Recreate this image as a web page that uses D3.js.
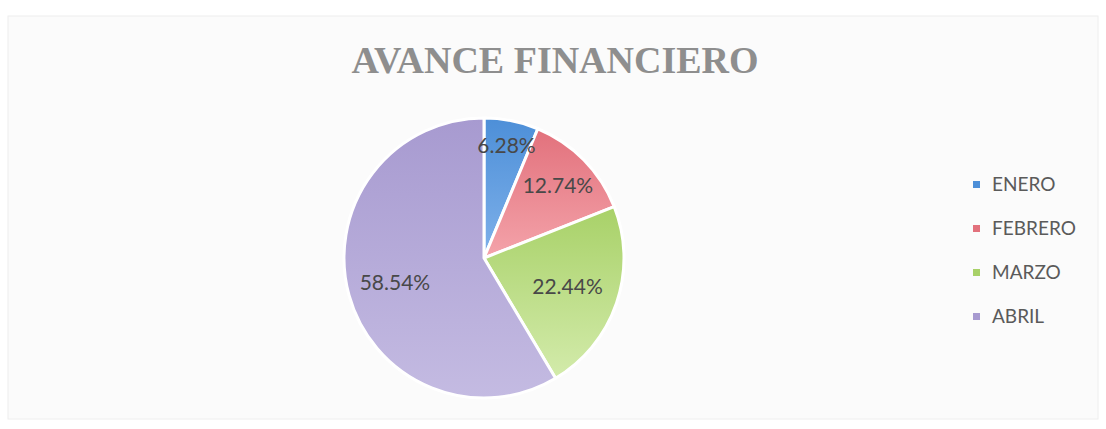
<!DOCTYPE html>
<html>
<head>
<meta charset="utf-8">
<script src="https://cdn.jsdelivr.net/npm/d3@7"></script>
<style>
  html, body { margin: 0; padding: 0; background: #ffffff; }
  svg { display: block; }
</style>
</head>
<body>
<div id="chart"></div>
<script>
// data
const months = ['ENERO', 'FEBRERO', 'MARZO', 'ABRIL'];
const shares = [6.28, 12.74, 22.44, 58.54];
const sliceColors = ['#4d8fd8', '#e2717c', '#a8d168', '#a79ad0'];
const sliceLight = ['#7fb1ea', '#f4a3aa', '#d3ebab', '#c4bbe2'];

const width = 1106, height = 429;
const cx = 484, cy = 258, radius = 140;

// label distance from centre, as a fraction of the radius (Excel "best fit" look)
const labelFrac = [0.82, 0.74, 0.63, 0.66];

const svg = d3.select('#chart').append('svg')
    .attr('width', width)
    .attr('height', height);

// gradients for the slices
const defs = svg.append('defs');
months.forEach((m, i) => {
    const g = defs.append('linearGradient')
        .attr('id', 'grad' + i)
        .attr('x1', '0').attr('y1', '0')
        .attr('x2', '0').attr('y2', '1');
    g.append('stop').attr('offset', '0%').attr('stop-color', sliceColors[i]);
    g.append('stop').attr('offset', '100%').attr('stop-color', sliceLight[i]);
});

// chart area frame
svg.append('rect')
    .attr('x', 8).attr('y', 16)
    .attr('width', width - 16).attr('height', height - 26)
    .attr('fill', '#fbfbfb')
    .attr('stroke', '#eeeeee');

svg.append('text')
    .attr('x', 555)
    .attr('y', 73)
    .attr('text-anchor', 'middle')
    .style('font-family', "'Liberation Serif', 'DejaVu Serif', serif")
    .style('font-weight', 'bold')
    .style('font-size', '38px')
    .style('fill', '#8e8e8e')
    .text('AVANCE FINANCIERO');

const pie = d3.pie().sort(null).value(d => d)
    .startAngle(0).endAngle(2 * Math.PI);
const arcs = pie(shares);

const arc = d3.arc().innerRadius(0).outerRadius(radius);

const g = svg.append('g').attr('transform', `translate(${cx},${cy})`);

g.selectAll('path')
    .data(arcs)
    .enter().append('path')
    .attr('d', arc)
    .attr('fill', (d, i) => `url(#grad${i})`)
    .attr('stroke', '#ffffff')
    .attr('stroke-width', 3)
    .attr('stroke-linejoin', 'round');

g.selectAll('text.lbl')
    .data(arcs)
    .enter().append('text')
    .attr('class', 'lbl')
    .attr('transform', (d, i) => {
        const a = (d.startAngle + d.endAngle) / 2;
        const r = radius * labelFrac[i];
        return `translate(${Math.sin(a) * r},${-Math.cos(a) * r})`;
    })
    .attr('text-anchor', 'middle')
    .attr('dy', '0.35em')
    .style('font-family', "Lato, 'Open Sans', sans-serif")
    .style('font-size', '21px')
    .style('fill', '#484848')
    .text(d => d.data.toFixed(2) + '%');

// legend
const legend = svg.append('g').attr('transform', 'translate(973,184)');
const item = legend.selectAll('g')
    .data(months)
    .enter().append('g')
    .attr('transform', (d, i) => `translate(0,${i * 44})`);

item.append('rect')
    .attr('x', 0).attr('y', -3)
    .attr('width', 7).attr('height', 7)
    .attr('fill', (d, i) => sliceColors[i]);

item.append('text')
    .attr('x', 19)
    .attr('dy', '0.35em')
    .style('font-family', "Lato, 'Open Sans', sans-serif")
    .style('font-size', '19px')
    .style('fill', '#5a5a5a')
    .text(d => d);
</script>
</body>
</html>
